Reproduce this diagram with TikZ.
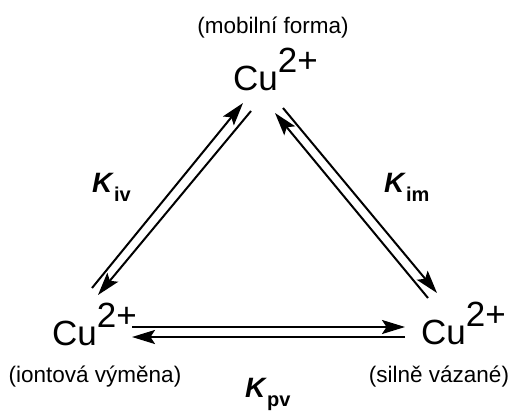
\documentclass[tikz,border=0pt]{standalone}
\usepackage{fontspec}
\setmainfont{Liberation Sans}
\usetikzlibrary{arrows.meta}
\newcommand{\cuion}{Cu\raisebox{18pt}{2+}}
\newcommand{\keq}[1]{\textbf{\textit{K}}\raisebox{-9pt}{\fontsize{20}{20}\selectfont\textbf{#1}}}
\tikzset{
  ion/.style={inner sep=0pt, font=\fontsize{35}{35}\selectfont},
  form/.style={inner sep=0pt, font=\fontsize{22.5}{22.5}\selectfont},
  kconst/.style={inner sep=0pt, font=\fontsize{28}{28}\selectfont},
  rxn/.style={-{Stealth[length=23pt,width=14pt,inset=4.5pt]}, line width=2pt}
}
\begin{document}
\begin{tikzpicture}[x=1pt,y=-1pt]
  \useasboundingbox (0,0) rectangle (518,410);
  % ions
  \node[ion, anchor=base west] (mob) at (233,90) {\cuion};
  \node[ion, anchor=base west] (ivx) at (52,345) {\cuion};
  \node[ion, anchor=base west] (pev) at (421,344) {\cuion};
  % forms
  \node[form, anchor=base] (mobl) at (273,33) {(mobilní forma)};
  \node[form, anchor=base] (ivxl) at (95,382) {(iontová výměna)};
  \node[form, anchor=base] (pevl) at (439,382) {(silně vázané)};
  % constants
  \node[kconst, anchor=base west] (kiv) at (92,192) {\keq{iv}};
  \node[kconst, anchor=base west] (kim) at (384,192) {\keq{im}};
  \node[kconst, anchor=base west] (kpv) at (245,397) {\keq{pv}};
  % equilibria
  \draw[rxn] ([shift={(40,-57)}]ivx.base west) -- ([shift={(10,13)}]mob.base west);
  \draw[rxn] ([shift={(18,21)}]mob.base west) -- ([shift={(46,-50)}]ivx.base west);
  \draw[rxn] ([shift={(7,-46)}]pev.base west) -- ([shift={(42,23)}]mob.base west);
  \draw[rxn] ([shift={(50,18)}]mob.base west) -- ([shift={(16,-51)}]pev.base west);
  \draw[rxn] ([shift={(80,-18)}]ivx.base west) -- ([shift={(-16,-17)}]pev.base west);
  \draw[rxn] ([shift={(-16,-7)}]pev.base west) -- ([shift={(80,-8)}]ivx.base west);
\end{tikzpicture}
\end{document}
